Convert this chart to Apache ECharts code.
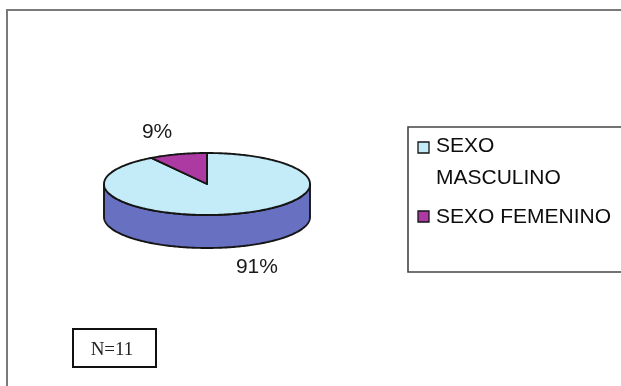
<!DOCTYPE html>
<html>
<head>
<meta charset="utf-8">
<script src="https://cdn.jsdelivr.net/npm/echarts@6/dist/echarts.min.js"></script>
<style>
html,body{margin:0;padding:0;background:#fff;}
#chart{width:621px;height:386px;}
</style>
</head>
<body>
<div id="chart"></div>
<script>
// ---- data ----
var categories = ['SEXO MASCULINO', 'SEXO FEMENINO'];
var legendLabels = ['SEXO\nMASCULINO', 'SEXO FEMENINO'];
var values = [10, 1];
var percentLabels = ['91%', '9%'];
var noteText = 'N=11';

// ---- styles ----
var topColors = ['#c4ebf8', '#ad3aa2'];
var sideColors = ['#6870c2', '#7a2470'];
var edge = '#151515';
var CX = 207, CY = 184, RX = 103, RY = 31, DEPTH = 33;

var total = values.reduce(function (a, b) { return a + b; }, 0);

function pt(deg, dy) {
  var r = deg * Math.PI / 180;
  return [CX + RX * Math.sin(r), CY - RY * Math.cos(r) + (dy || 0)];
}

function makeRender(idx) {
  return function (params, api) {
    var v = api.value(0);
    var before = 0;
    for (var k = 0; k < idx; k++) before += values[k];
    var a0 = before / total * 360;
    var a1 = a0 + v / total * 360;
    var children = [];
    // side wall (front half only: 90..270)
    var s0 = Math.max(a0, 90), s1 = Math.min(a1, 270);
    if (s1 > s0) {
      var side = [], d;
      for (d = s0; d <= s1; d += 1) side.push(pt(d));
      side.push(pt(s1));
      side.push(pt(s1, DEPTH));
      for (d = s1; d >= s0; d -= 1) side.push(pt(d, DEPTH));
      side.push(pt(s0, DEPTH));
      children.push({
        type: 'polygon', z2: 0,
        shape: { points: side },
        style: { fill: sideColors[idx], stroke: edge, lineWidth: 1.9 }
      });
    }
    // top face
    var top = [[CX, CY]];
    for (var t = a0; t < a1; t += 1) top.push(pt(t));
    top.push(pt(a1));
    children.push({
      type: 'polygon', z2: 10,
      shape: { points: top },
      style: { fill: topColors[idx], stroke: edge, lineWidth: 1.9, lineJoin: 'round' }
    });
    // percent label
    var mid = (a0 + a1) / 2 * Math.PI / 180;
    var lx = CX + 1.72 * RX * Math.sin(mid);
    var ly = CY - 1.74 * RY * Math.cos(mid) + (Math.cos(mid) < 0 ? DEPTH - 2 : 0);
    children.push({
      type: 'text', z2: 20,
      style: {
        x: lx, y: ly, text: percentLabels[idx],
        fill: '#1a1a1a', font: '21px "Liberation Sans", Arial, sans-serif',
        align: 'center', verticalAlign: 'middle'
      }
    });
    return { type: 'group', children: children };
  };
}

var series = categories.map(function (name, i) {
  return {
    type: 'custom', name: name, coordinateSystem: 'none',
    data: [[values[i]]],
    renderItem: makeRender(i),
    silent: true
  };
});

var legendFont = '21px "Liberation Sans", Arial, sans-serif';
var graphic = [
  // outer frame
  { type: 'rect', z: 0,
    shape: { x: 7, y: 10, width: 700, height: 500 },
    style: { fill: 'none', stroke: '#7a7a7a', lineWidth: 2 } },
  // legend box
  { type: 'rect', z: 1,
    shape: { x: 408, y: 127, width: 240, height: 145 },
    style: { fill: '#fff', stroke: '#444', lineWidth: 1.6 } },
  { type: 'rect', z: 2,
    shape: { x: 418, y: 142, width: 11, height: 11 },
    style: { fill: topColors[0], stroke: edge, lineWidth: 1.3 } },
  { type: 'text', z: 2,
    style: { x: 436, y: 130, text: legendLabels[0], font: legendFont,
      lineHeight: 32, fill: '#0d0d0d', verticalAlign: 'top' } },
  { type: 'rect', z: 2,
    shape: { x: 418, y: 211, width: 11, height: 11 },
    style: { fill: topColors[1], stroke: edge, lineWidth: 1.3 } },
  { type: 'text', z: 2,
    style: { x: 436, y: 217, text: legendLabels[1], font: legendFont,
      fill: '#0d0d0d', verticalAlign: 'middle' } },
  // N box
  { type: 'rect', z: 2,
    shape: { x: 73, y: 329, width: 83, height: 38 },
    style: { fill: '#fff', stroke: '#111', lineWidth: 2 } },
  { type: 'text', z: 3,
    style: { x: 112, y: 350, text: noteText,
      font: '19px "Liberation Serif", "Times New Roman", serif',
      fill: '#222', align: 'center', verticalAlign: 'middle' } }
];

var chart = echarts.init(document.getElementById('chart'), null, { renderer: 'canvas' });
chart.setOption({
  backgroundColor: '#ffffff',
  animation: false,
  series: series,
  graphic: graphic
});
</script>
</body>
</html>
